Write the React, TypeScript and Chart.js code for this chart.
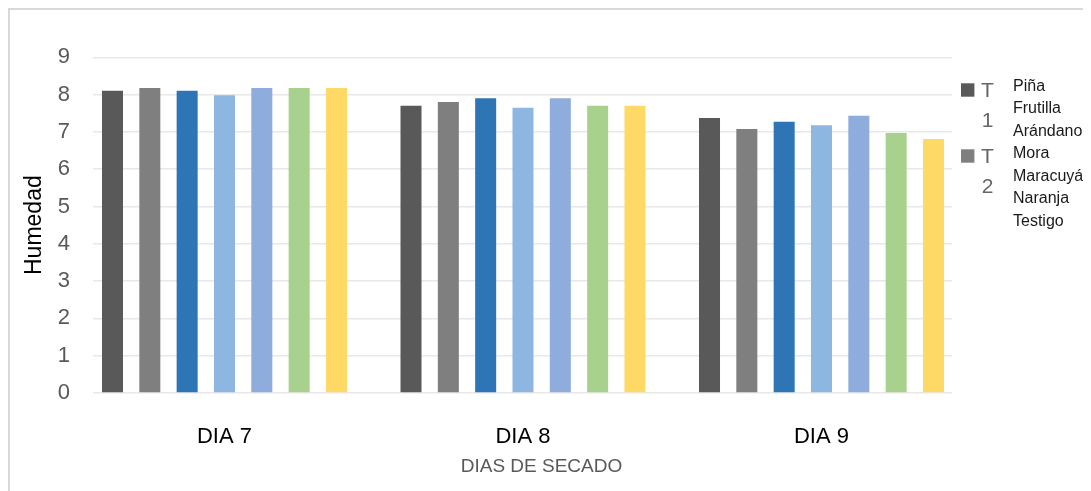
import React, { useEffect, useRef } from 'react';
import { Chart, registerables } from 'chart.js';

Chart.register(...registerables);

const categories = ['DIA 7', 'DIA 8', 'DIA 9'];
const seriesNames = ['Piña', 'Frutilla', 'Arándano', 'Mora', 'Maracuyá', 'Naranja', 'Testigo'];
const pina = [8.1, 7.7, 7.37];
const frutilla = [8.18, 7.8, 7.08];
const arandano = [8.1, 7.9, 7.27];
const mora = [7.98, 7.65, 7.18];
const maracuya = [8.18, 7.9, 7.43];
const naranja = [8.18, 7.7, 6.97];
const testigo = [8.18, 7.7, 6.81];
const seriesValues = [pina, frutilla, arandano, mora, maracuya, naranja, testigo];
const seriesColors = ['#595959', '#7f7f7f', '#2e75b6', '#8db7e0', '#8faddc', '#a9d18e', '#ffd966'];
const yTicks = [0, 1, 2, 3, 4, 5, 6, 7, 8, 9];
const legendKeys = ['T 1', 'T 2'];
const legendKeyColors = ['#595959', '#7f7f7f'];
const xTitle = 'DIAS DE SECADO';
const yTitle = 'Humedad';

const FONT = '"Liberation Sans", Arial, sans-serif';

const customText = {
  id: 'customText',
  afterDraw(chart: any) {
    const ctx = chart.ctx as CanvasRenderingContext2D;
    ctx.save();
    legendKeys.forEach((key, i) => {
      const y0 = 75.3 + i * 66;
      ctx.fillStyle = legendKeyColors[i];
      ctx.fillRect(953, y0, 13.4, 13.4);
      const parts = key.split(' ');
      ctx.font = `21px ${FONT}`;
      ctx.fillStyle = '#666666';
      ctx.textAlign = 'center';
      ctx.textBaseline = 'alphabetic';
      ctx.fillText(parts[0], 979.5, y0 + 14);
      ctx.fillText(parts[1], 979.5, y0 + 44);
    });
    ctx.font = `16px ${FONT}`;
    ctx.fillStyle = '#1a1a1a';
    ctx.textAlign = 'left';
    ctx.textBaseline = 'alphabetic';
    seriesNames.forEach((name, i) => {
      ctx.fillText(name, 1005, 82.5 + i * 22.5);
    });
    ctx.font = `19px ${FONT}`;
    ctx.fillStyle = '#595959';
    ctx.textAlign = 'center';
    ctx.textBaseline = 'middle';
    ctx.fillText(xTitle, 533.5, 459);
    ctx.restore();
  },
};

export default function App() {
  const ref = useRef<HTMLCanvasElement>(null);

  useEffect(() => {
    Chart.defaults.font.family = FONT;
    const chart = new Chart(ref.current as HTMLCanvasElement, {
      type: 'bar',
      data: {
        datasets: seriesNames.map((name, k) => ({
          label: name,
          data: categories.map((_, i) => ({ x: i, y: seriesValues[k][i] })),
          backgroundColor: seriesColors[k],
          borderWidth: 0,
        })),
      },
      options: {
        responsive: false,
        animation: false,
        layout: { padding: { top: 49.3, right: 139, bottom: 0, left: 0 } },
        plugins: { legend: { display: false }, tooltip: { enabled: false } },
        datasets: { bar: { categoryPercentage: 0.8754, barPercentage: 0.563 } },
        scales: {
          x: {
            type: 'linear',
            offset: false,
            min: -0.4405,
            max: 2.4372,
            afterBuildTicks: (s: any) => {
              s.ticks = categories.map((_, i) => ({ value: i }));
            },
            afterFit: (s: any) => {
              s.height = 98;
            },
            grid: { display: false, drawTicks: false, offset: false },
            border: { display: false },
            ticks: {
              callback: (v: any) => categories[v] ?? '',
              font: { size: 22 },
              color: '#000000',
              padding: 30.8,
              maxRotation: 0,
              autoSkip: false,
            },
          },
          y: {
            min: 0,
            max: 9,
            afterBuildTicks: (s: any) => {
              s.ticks = yTicks.map((v) => ({ value: v }));
            },
            afterFit: (s: any) => {
              s.width = 85;
            },
            grid: { color: '#e8e8e8', lineWidth: 1.5, drawTicks: false },
            border: { display: false },
            ticks: { font: { size: 22 }, color: '#595959', padding: 23 },
            title: {
              display: true,
              text: yTitle,
              font: { size: 23 },
              color: '#000000',
              padding: { top: 13.2, bottom: 0 },
            },
          },
        },
      },
      plugins: [customText],
    } as any);
    return () => chart.destroy();
  }, []);

  return (
    <div style={{ position: 'relative', width: 1083, height: 483 }}>
      <canvas ref={ref} width={1083} height={483} style={{ position: 'absolute', left: 0, top: 0 }} />
      <div
        style={{
          position: 'absolute',
          left: 0,
          top: 0,
          right: 0,
          bottom: 0,
          borderLeft: '2px solid #d9d9d9',
          borderTop: '2px solid #d9d9d9',
          pointerEvents: 'none',
        }}
      />
    </div>
  );
}
